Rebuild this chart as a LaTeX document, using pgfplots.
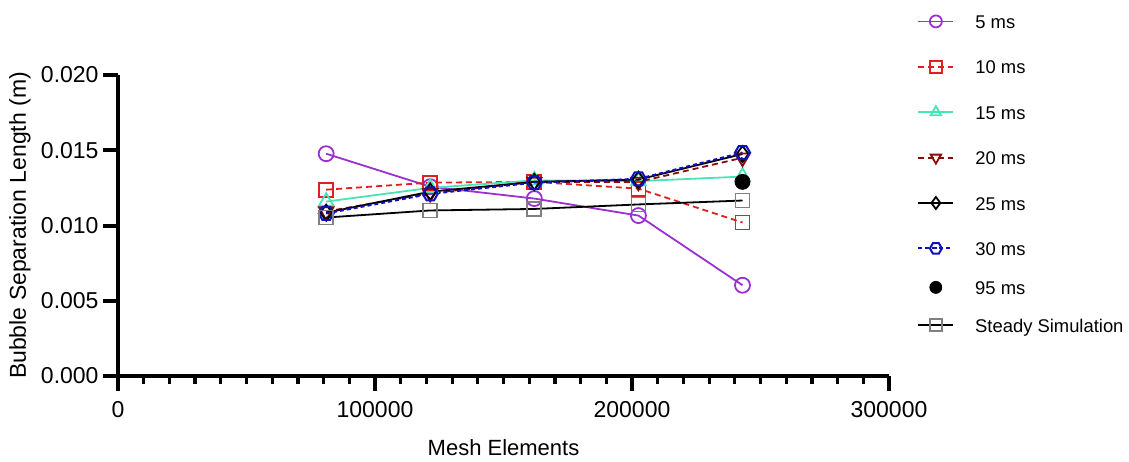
\documentclass[border=0pt]{standalone}
\usepackage{pgfplots}
\pgfplotsset{compat=1.18}
\usepackage{fontspec}
\setmainfont{Liberation Sans}
\definecolor{cP}{HTML}{9B30D0}
\definecolor{cR}{HTML}{E02020}
\definecolor{cA}{HTML}{48E4B4}
\definecolor{cD}{HTML}{8B0A0A}
\definecolor{cB}{HTML}{1010C0}
\definecolor{cG}{HTML}{808080}
\pgfdeclareplotmark{hexagon}{%
  \pgfpathmoveto{\pgfqpointpolar{0}{\pgfplotmarksize}}%
  \pgfpathlineto{\pgfqpointpolar{60}{\pgfplotmarksize}}%
  \pgfpathlineto{\pgfqpointpolar{120}{\pgfplotmarksize}}%
  \pgfpathlineto{\pgfqpointpolar{180}{\pgfplotmarksize}}%
  \pgfpathlineto{\pgfqpointpolar{240}{\pgfplotmarksize}}%
  \pgfpathlineto{\pgfqpointpolar{300}{\pgfplotmarksize}}%
  \pgfpathclose\pgfusepathqstroke}
\pgfplotsset{
  mylegend/.style={
    legend image code/.code={\draw[mark repeat=2,mark phase=2,##1] plot coordinates {(0pt,0pt) (8.75pt,0pt) (17.5pt,0pt)};},
    legend image post style={mark size=3pt},
    legend cell align=left,
    legend style={draw=none, fill=none, inner sep=0pt, anchor=north west,
      font=\fontsize{9.2}{10}\selectfont,
      nodes={inner sep=1pt, text height=7pt, text depth=0pt},
      /tikz/every odd column/.append style={column sep=9.5pt}},
  },
  mysize/.style={scale only axis, width=385.5pt, height=150.5pt,
    xmin=0, xmax=300000, ymin=0, ymax=0.020},
}
\begin{document}
\begin{tikzpicture}
\begin{axis}[
  mysize, mylegend,
  /pgf/number format/assume math mode=true,
  axis x line=bottom, axis y line=left,
  axis line style={-, line width=2pt, black},
  x axis line style={shorten <=-7.5pt},
  y axis line style={shorten <=-7.5pt},
  xtick={0,100000,200000,300000},
  minor x tick num=9,
  ytick={0,0.005,0.010,0.015,0.020},
  tick align=outside,
  major tick length=7.5pt, minor tick length=4pt,
  every tick/.style={black, line width=2pt},
  every minor tick/.style={black, line width=1.6pt},
  scaled x ticks=false, scaled y ticks=false,
  xticklabel style={yshift=-1.5pt, /pgf/number format/.cd, fixed, precision=0, 1000 sep={}},
  yticklabel style={xshift=1.3pt, /pgf/number format/.cd, fixed, fixed zerofill, precision=3},
  tick label style={font=\fontsize{11.5}{12}\selectfont},
  xlabel={Mesh Elements},
  ylabel={Bubble Separation Length (m)},
  every axis x label/.style={at={(axis description cs:0.5,-0.2384)}, anchor=center, font=\fontsize{11}{12}\selectfont},
  every axis y label/.style={at={(axis description cs:-0.1271,0.5)}, rotate=90, anchor=center, font=\fontsize{11.5}{12}\selectfont},
  legend style={at={(1.0363,1.2093)}, row sep=13.7pt},
]
\coordinate (O) at (rel axis cs:0,0);
\addplot[cP, line width=0.9pt, mark=o, mark size=3.75pt] coordinates {
 (81000,0.01477) (121500,0.01258) (162000,0.01179) (202500,0.01066) (243000,0.00603)};
\addlegendentry{5 ms}
\addplot[cR, line width=0.9pt, dash pattern=on 3pt off 2pt, mark=square, mark size=3.5pt, mark options={solid}] coordinates {
 (81000,0.01238) (121500,0.01285) (162000,0.01290) (202500,0.01245) (243000,0.01020)};
\addlegendentry{10 ms}
\addplot[cA, line width=0.9pt, mark=triangle, mark size=4.2pt] coordinates {
 (81000,0.01159) (121500,0.01250) (162000,0.01300) (202500,0.01295) (243000,0.01325)};
\addlegendentry{15 ms}
\addplot[cD, line width=0.9pt, dash pattern=on 3pt off 2pt, mark=triangle, mark size=4.2pt, mark options={solid, rotate=180}] coordinates {
 (81000,0.01093) (121500,0.01215) (162000,0.01290) (202500,0.01290) (243000,0.01450)};
\addlegendentry{20 ms}
\addplot[black, line width=0.9pt, mark=diamond, mark size=4pt] coordinates {
 (81000,0.01085) (121500,0.01225) (162000,0.01290) (202500,0.01305) (243000,0.01475)};
\addlegendentry{25 ms}
\addplot[cB, line width=1pt, dash pattern=on 2pt off 1.5pt, mark=hexagon, mark size=3.75pt, mark options={solid}] coordinates {
 (81000,0.01080) (121500,0.01210) (162000,0.01285) (202500,0.01310) (243000,0.01485)};
\addlegendentry{30 ms}
\addplot[black, only marks, mark=*, mark size=3.75pt] coordinates {
 (243000,0.0129)};
\addplot[black, line width=0.9pt, mark=square, mark size=3.5pt, mark options={cG}] coordinates {
 (81000,0.01053) (121500,0.01100) (162000,0.01110) (202500,0.01140) (243000,0.01166)};
\end{axis}
\begin{axis}[
  mysize, mylegend, hide axis,
  legend style={at={(1.0363,0.3256)}, row sep=10pt},
]
\addlegendimage{black, only marks, mark=*}
\addlegendentry{95 ms}
\addlegendimage{black, line width=0.9pt, mark=square, mark options={cG}}
\addlegendentry{Steady Simulation}
\end{axis}
\pgfresetboundingbox
\path (O) ++(-59pt,-42.5pt) rectangle ++(564.5pt,230.5pt);
\end{tikzpicture}
\end{document}
